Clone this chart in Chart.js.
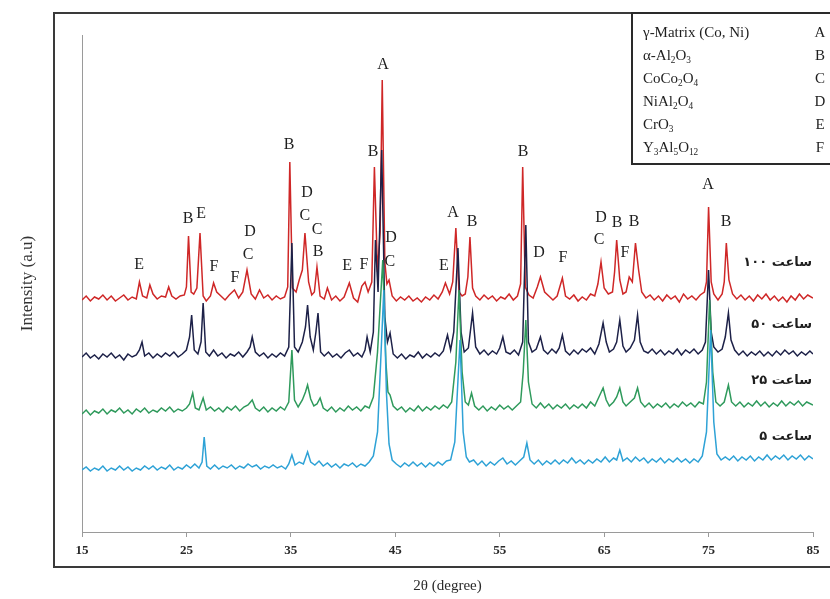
<!DOCTYPE html>
<html>
<head>
<meta charset="utf-8">
<script src="https://cdn.jsdelivr.net/npm/chart.js@4.4.1/dist/chart.umd.min.js"></script>
<style>
  body { margin: 0; background: #fff; }
  canvas { display: block; }
</style>
</head>
<body>
<canvas id="xrdChart" width="830" height="599"></canvas>
<script>
// 2theta ticks
const xTicks = [15, 25, 35, 45, 55, 65, 75, 85];

// series names (milling time)
const seriesNames = ['۱۰۰ ساعت', '۵۰ ساعت', '۲۵ ساعت', '۵ ساعت'];

// [2theta, intensity (a.u, stacked)]
const h100 = [[15,232],[15.4,236],[15.8,231],[16.2,235],[16.6,233],[17,237],[17.4,232],[17.8,236],[18.2,231],[18.6,234],[19,237],[19.4,232],[19.8,235],[20.2,233],[20.5,250],[20.8,236],[21.2,234],[21.5,247],[21.8,238],[22.2,233],[22.6,236],[23,235],[23.3,245],[23.6,236],[24,233],[24.4,236],[24.8,237],[25.0,245],[25.2,296],[25.45,240],[25.7,238],[26.0,244],[26.3,299],[26.6,236],[26.9,231],[27.3,236],[27.6,249],[27.9,240],[28.3,236],[28.7,232],[29.1,237],[29.6,242],[30.0,234],[30.4,240],[30.8,262],[31.2,238],[31.6,233],[32.0,242],[32.4,234],[32.8,237],[33.2,232],[33.6,236],[34.0,233],[34.4,235],[34.7,245],[34.9,370],[35.15,244],[35.5,240],[35.8,252],[36.1,262],[36.35,299],[36.7,250],[37.0,237],[37.25,240],[37.5,265],[37.8,236],[38.2,233],[38.5,244],[38.9,232],[39.3,236],[39.7,231],[40.1,235],[40.6,249],[41.0,234],[41.4,230],[41.8,246],[42.1,250],[42.4,240],[42.75,250],[43.0,365],[43.3,260],[43.55,300],[43.75,452],[44.0,270],[44.2,248],[44.4,252],[44.7,236],[45.1,231],[45.5,235],[45.9,232],[46.3,236],[46.7,231],[47.1,234],[47.5,230],[47.9,235],[48.3,232],[48.7,237],[49.1,233],[49.5,240],[49.8,249],[50.2,238],[50.5,250],[50.8,304],[51.1,240],[51.4,236],[51.7,238],[51.95,255],[52.15,295],[52.4,244],[52.7,236],[53.1,232],[53.5,237],[53.9,233],[54.3,236],[54.7,231],[55.1,235],[55.5,233],[55.9,238],[56.3,232],[56.7,236],[57.0,248],[57.2,365],[57.45,245],[57.8,237],[58.2,234],[58.6,245],[58.9,255],[59.3,240],[59.7,236],[60.1,232],[60.5,236],[61.0,254],[61.3,236],[61.7,233],[62.1,237],[62.5,231],[62.9,235],[63.3,232],[63.7,238],[64.1,236],[64.4,248],[64.7,270],[65.0,244],[65.4,238],[65.8,240],[66.0,260],[66.2,292],[66.5,252],[66.8,238],[67.1,240],[67.4,255],[67.7,250],[68.0,289],[68.3,262],[68.6,240],[69.0,234],[69.4,237],[69.8,232],[70.2,236],[70.6,231],[71.0,237],[71.4,233],[71.8,236],[72.2,230],[72.6,238],[73.0,233],[73.4,236],[73.8,232],[74.2,237],[74.6,240],[74.8,250],[75.0,325],[75.25,250],[75.5,238],[75.9,232],[76.3,238],[76.5,250],[76.7,289],[76.95,252],[77.3,238],[77.7,233],[78.1,237],[78.5,232],[78.9,236],[79.3,231],[79.7,237],[80.1,233],[80.5,238],[80.9,232],[81.3,236],[81.7,231],[82.1,235],[82.5,230],[82.9,236],[83.3,232],[83.7,238],[84.1,233],[84.5,237],[85,234]];

const h50 = [[15,175],[15.4,179],[15.8,174],[16.2,177],[16.6,173],[17,178],[17.4,175],[17.8,179],[18.2,174],[18.6,177],[19,172],[19.4,178],[19.8,175],[20.2,177],[20.5,182],[20.75,190],[21.0,176],[21.4,179],[21.8,174],[22.2,178],[22.6,175],[23,179],[23.4,176],[23.8,180],[24.2,175],[24.6,178],[25.0,182],[25.3,195],[25.5,217],[25.75,182],[26.1,178],[26.4,190],[26.6,229],[26.85,180],[27.2,176],[27.6,182],[28.0,176],[28.4,179],[28.8,174],[29.2,178],[29.6,176],[30.0,180],[30.4,175],[30.8,180],[31.1,185],[31.3,195],[31.6,180],[32.0,176],[32.4,179],[32.8,174],[33.2,178],[33.6,175],[34.0,179],[34.4,176],[34.8,185],[35.1,289],[35.35,185],[35.7,180],[36.1,190],[36.4,205],[36.6,227],[36.85,195],[37.15,182],[37.4,200],[37.6,219],[37.85,180],[38.2,176],[38.6,180],[39.0,175],[39.4,178],[39.8,174],[40.2,179],[40.6,182],[41.0,176],[41.4,179],[41.8,175],[42.1,182],[42.3,195],[42.6,180],[42.9,200],[43.1,292],[43.35,240],[43.7,382],[44.0,215],[44.25,190],[44.5,199],[44.8,178],[45.2,174],[45.6,178],[46.0,173],[46.4,177],[46.8,175],[47.2,180],[47.6,174],[48.0,178],[48.4,175],[48.8,179],[49.2,176],[49.6,181],[50.0,197],[50.3,182],[50.6,200],[51.0,284],[51.3,200],[51.6,180],[52.0,184],[52.4,219],[52.7,185],[53.1,178],[53.5,182],[53.9,177],[54.3,181],[54.7,178],[55.0,184],[55.3,195],[55.6,180],[56.0,178],[56.4,182],[56.8,177],[57.2,190],[57.5,307],[57.75,190],[58.1,180],[58.5,183],[58.9,195],[59.2,182],[59.6,178],[60.0,183],[60.4,179],[60.7,184],[61.0,197],[61.3,181],[61.7,177],[62.1,182],[62.5,178],[62.9,183],[63.3,180],[63.7,184],[64.1,178],[64.5,188],[64.9,209],[65.2,190],[65.5,180],[65.9,183],[66.2,190],[66.5,212],[66.8,186],[67.1,180],[67.5,184],[67.9,192],[68.2,217],[68.45,190],[68.8,181],[69.2,179],[69.6,183],[70.0,178],[70.4,182],[70.8,177],[71.2,181],[71.6,178],[72.0,183],[72.4,177],[72.8,182],[73.2,179],[73.6,183],[74.0,178],[74.4,182],[74.7,190],[75.0,262],[75.25,200],[75.5,185],[75.9,180],[76.3,183],[76.6,195],[76.9,219],[77.15,192],[77.5,182],[77.9,177],[78.3,181],[78.7,176],[79.1,180],[79.5,177],[79.9,181],[80.3,176],[80.7,180],[81.1,176],[81.5,181],[81.9,177],[82.3,182],[82.7,178],[83.1,181],[83.5,176],[83.9,180],[84.3,177],[84.7,181],[85,178]];

const h25 = [[15,118],[15.4,122],[15.8,117],[16.2,121],[16.6,119],[17,123],[17.4,118],[17.8,122],[18.2,120],[18.6,124],[19,119],[19.4,122],[19.8,118],[20.2,123],[20.6,120],[21.0,124],[21.4,119],[21.8,122],[22.2,120],[22.6,124],[23,121],[23.4,125],[23.8,120],[24.2,123],[24.6,121],[25.0,124],[25.3,128],[25.6,139],[25.85,124],[26.2,122],[26.6,134],[26.9,122],[27.3,125],[27.7,121],[28.1,124],[28.5,120],[28.9,125],[29.3,122],[29.7,126],[30.1,121],[30.5,125],[30.9,127],[31.3,132],[31.6,124],[32.0,121],[32.4,125],[32.8,120],[33.2,124],[33.6,121],[34.0,125],[34.4,122],[34.8,130],[35.1,182],[35.35,132],[35.7,125],[36.1,132],[36.4,140],[36.6,147],[36.9,133],[37.2,126],[37.5,128],[37.8,134],[38.1,124],[38.5,121],[38.9,125],[39.3,120],[39.7,124],[40.1,121],[40.5,126],[40.9,122],[41.3,125],[41.7,121],[42.1,126],[42.5,124],[42.9,135],[43.3,180],[43.8,272],[44.1,170],[44.3,140],[44.5,137],[44.8,126],[45.2,122],[45.6,125],[46.0,120],[46.4,124],[46.8,121],[47.2,126],[47.6,121],[48.0,125],[48.4,122],[48.8,126],[49.2,123],[49.6,127],[50.0,124],[50.4,130],[50.8,170],[51.1,242],[51.4,160],[51.7,130],[52.0,127],[52.3,139],[52.6,126],[53.0,122],[53.4,126],[53.8,121],[54.2,125],[54.6,122],[55.0,127],[55.4,123],[55.8,126],[56.2,122],[56.6,126],[57.0,130],[57.25,160],[57.5,212],[57.75,150],[58.1,128],[58.5,124],[58.9,129],[59.3,124],[59.7,128],[60.1,123],[60.5,127],[60.9,124],[61.3,128],[61.7,123],[62.1,127],[62.5,124],[62.9,128],[63.3,124],[63.7,130],[64.1,126],[64.5,135],[64.9,144],[65.2,132],[65.5,126],[65.9,130],[66.2,135],[66.5,144],[66.8,130],[67.1,126],[67.5,130],[67.9,134],[68.2,144],[68.5,130],[68.9,125],[69.3,129],[69.7,124],[70.1,128],[70.5,125],[70.9,129],[71.3,124],[71.7,128],[72.1,125],[72.5,130],[72.9,126],[73.3,129],[73.7,125],[74.1,130],[74.5,128],[74.8,150],[75.1,232],[75.4,160],[75.7,130],[76.1,126],[76.5,130],[76.9,147],[77.2,130],[77.6,126],[78.0,130],[78.4,125],[78.8,129],[79.2,126],[79.6,131],[80.0,126],[80.4,130],[80.8,125],[81.2,129],[81.6,126],[82.0,131],[82.4,126],[82.8,130],[83.2,127],[83.6,131],[84.0,126],[84.4,130],[85,127]];

const h5 = [[15,62],[15.4,65],[15.8,61],[16.2,64],[16.6,62],[17,66],[17.4,61],[17.8,64],[18.2,62],[18.6,66],[19,62],[19.4,65],[19.8,61],[20.2,64],[20.6,62],[21.0,66],[21.4,63],[21.8,66],[22.2,62],[22.6,65],[23,63],[23.4,67],[23.8,62],[24.2,65],[24.6,63],[25.0,67],[25.4,64],[25.8,68],[26.2,64],[26.5,70],[26.7,95],[26.95,66],[27.3,63],[27.7,67],[28.1,63],[28.5,66],[28.9,64],[29.3,67],[29.7,63],[30.1,66],[30.5,64],[30.9,68],[31.3,65],[31.7,67],[32.1,63],[32.5,66],[32.9,64],[33.3,67],[33.7,64],[34.1,66],[34.5,63],[34.8,68],[35.1,77],[35.4,67],[35.8,70],[36.2,68],[36.6,80],[36.9,70],[37.3,67],[37.7,71],[38.1,66],[38.5,69],[38.9,65],[39.3,68],[39.7,64],[40.1,68],[40.5,66],[40.9,69],[41.3,65],[41.7,68],[42.1,66],[42.5,70],[42.9,76],[43.3,100],[43.6,170],[43.9,242],[44.15,140],[44.4,88],[44.7,72],[45.1,68],[45.5,65],[45.9,69],[46.3,66],[46.7,70],[47.1,66],[47.5,69],[47.9,65],[48.3,69],[48.7,66],[49.1,70],[49.5,67],[49.9,71],[50.3,72],[50.7,90],[51.2,192],[51.5,100],[51.8,75],[52.1,70],[52.5,72],[52.9,67],[53.3,71],[53.7,66],[54.1,70],[54.5,67],[54.9,71],[55.3,74],[55.7,68],[56.1,71],[56.5,67],[56.9,71],[57.3,75],[57.6,89],[57.9,72],[58.3,68],[58.7,72],[59.1,67],[59.5,71],[59.9,68],[60.3,72],[60.7,68],[61.1,72],[61.5,69],[61.9,74],[62.3,69],[62.7,72],[63.1,68],[63.5,72],[63.9,69],[64.3,73],[64.7,70],[65.1,75],[65.5,70],[65.9,74],[66.2,72],[66.5,82],[66.8,71],[67.2,74],[67.6,70],[68.0,75],[68.4,71],[68.8,74],[69.2,69],[69.6,73],[70.0,70],[70.4,74],[70.8,69],[71.2,73],[71.6,70],[72.0,74],[72.4,70],[72.8,73],[73.2,69],[73.6,73],[74.0,70],[74.4,76],[74.8,100],[75.2,202],[75.5,110],[75.8,78],[76.2,72],[76.6,75],[77.0,72],[77.4,76],[77.8,71],[78.2,75],[78.6,72],[79.0,76],[79.4,71],[79.8,75],[80.2,72],[80.6,77],[81.0,72],[81.4,76],[81.8,73],[82.2,77],[82.6,72],[83.0,76],[83.4,73],[83.8,77],[84.2,72],[84.6,76],[85,73]];

// phase letters over the 100 h pattern: [letter, 2theta, intensity]
const peakLabels = [
  ['E',20.46,267],['B',25.15,313],['E',26.4,318],['F',27.64,265],['F',29.65,254],
  ['D',31.09,300],['C',30.9,277],['B',34.82,387],['D',36.55,339],['C',36.35,316],
  ['C',37.5,302],['B',37.6,280],['E',40.38,266],['F',42.0,267],['B',42.87,380],
  ['A',43.82,467],['D',44.59,294],['C',44.49,270],['E',49.66,266],['A',50.53,319],
  ['B',52.35,310],['B',57.23,380],['D',58.76,279],['F',61.06,274],['D',64.7,314],
  ['C',64.51,292],['B',66.23,309],['B',67.86,310],['F',67.0,279],['A',74.94,347],
  ['B',76.67,310]
];

// phase key
const phases = ['γ-Matrix (Co, Ni)', 'α-Al_2O_3', 'CoCo_2O_4', 'NiAl_2O_4', 'CrO_3', 'Y_3Al_5O_12'];
const phaseKeys = ['A', 'B', 'C', 'D', 'E', 'F'];

const colors = ['#2ea2d6', '#2f9a5c', '#1d2148', '#cf2727'];

function toPts(arr) { return arr.map(p => ({x: p[0], y: p[1]})); }

function drawSub(ctx, str, x, y, size) {
  const parts = str.split(/_(\d+)/);
  let cx = x;
  parts.forEach((t, i) => {
    if (!t) return;
    if (i % 2 === 1) {
      ctx.font = (size * 0.62) + 'px "Liberation Serif"';
      ctx.fillText(t, cx, y + size * 0.28);
    } else {
      ctx.font = size + 'px "Liberation Serif"';
      ctx.fillText(t, cx, y);
    }
    cx += ctx.measureText(t).width;
  });
}

const extras = {
  id: 'extras',
  afterDraw(chart) {
    const ctx = chart.ctx;
    const xs = chart.scales.x, ys = chart.scales.y;
    ctx.save();
    ctx.direction = 'ltr';
    // outer frame
    ctx.strokeStyle = '#3a3a3a';
    ctx.lineWidth = 2;
    ctx.beginPath();
    ctx.moveTo(832, 13); ctx.lineTo(54, 13); ctx.lineTo(54, 567); ctx.lineTo(832, 567);
    ctx.stroke();

    // peak letters
    ctx.fillStyle = '#1e1e1e';
    ctx.font = '16px "Liberation Serif"';
    ctx.textAlign = 'center';
    ctx.textBaseline = 'middle';
    peakLabels.forEach(l => {
      ctx.fillText(l[0], xs.getPixelForValue(l[1]), ys.getPixelForValue(l[2]));
    });

    // series names: number on the left, word on the right
    ctx.font = 'bold 13px "DejaVu Sans"';
    ctx.textAlign = 'right';
    const nameY = [263, 325, 381, 437];
    seriesNames.forEach((n, i) => {
      const parts = n.split(' ');
      ctx.fillText(parts[1], 812, nameY[i]);
      const w = ctx.measureText(parts[1] + ' ').width;
      ctx.fillText(parts[0], 812 - w, nameY[i]);
    });

    // phase key box
    ctx.fillStyle = '#fff';
    ctx.fillRect(632, 13, 200, 151);
    ctx.strokeStyle = '#2a2a2a';
    ctx.lineWidth = 2;
    ctx.strokeRect(632, 13, 200, 151);
    ctx.fillStyle = '#1e1e1e';
    ctx.textAlign = 'left';
    phases.forEach((p, i) => {
      const y = 33 + i * 23;
      drawSub(ctx, p, 643, y, 15);
      ctx.font = '15px "Liberation Serif"';
      ctx.textAlign = 'center';
      ctx.fillText(phaseKeys[i], 820, y);
      ctx.textAlign = 'left';
    });
    ctx.restore();
  }
};

new Chart(document.getElementById('xrdChart'), {
  type: 'line',
  data: {
    datasets: [
      { label: seriesNames[3], data: toPts(h5), borderColor: colors[0] },
      { label: seriesNames[2], data: toPts(h25), borderColor: colors[1] },
      { label: seriesNames[1], data: toPts(h50), borderColor: colors[2] },
      { label: seriesNames[0], data: toPts(h100), borderColor: colors[3] }
    ]
  },
  options: {
    responsive: false,
    animation: false,
    layout: { padding: { top: 35, right: 17, left: 0, bottom: 0 } },
    elements: {
      point: { radius: 0 },
      line: { borderWidth: 1.5, tension: 0, fill: false }
    },
    plugins: {
      legend: { display: false },
      tooltip: { enabled: false }
    },
    scales: {
      x: {
        type: 'linear',
        min: 15,
        max: 85,
        afterBuildTicks: s => { s.ticks = xTicks.map(v => ({value: v})); },
        ticks: { color: '#2a2a2a', font: { family: 'Liberation Serif', size: 13, weight: 'bold' }, padding: 6, maxRotation: 0 },
        grid: { drawOnChartArea: false, tickLength: 5, color: '#9a9a9a' },
        border: { color: '#9a9a9a' },
        title: { display: true, text: '2θ (degree)', color: '#2a2a2a', font: { family: 'Liberation Serif', size: 15 }, padding: { bottom: 4 } },
        afterFit: s => { s.height = 67; }
      },
      y: {
        min: 0,
        max: 497,
        ticks: { display: false },
        grid: { display: false },
        border: { color: '#9a9a9a' },
        title: { display: true, text: 'Intensity (a.u)', color: '#333', font: { family: 'Liberation Serif', size: 17 }, padding: { top: 17 } },
        afterFit: s => { s.width = 82; }
      }
    }
  },
  plugins: [extras]
});
</script>
</body>
</html>
